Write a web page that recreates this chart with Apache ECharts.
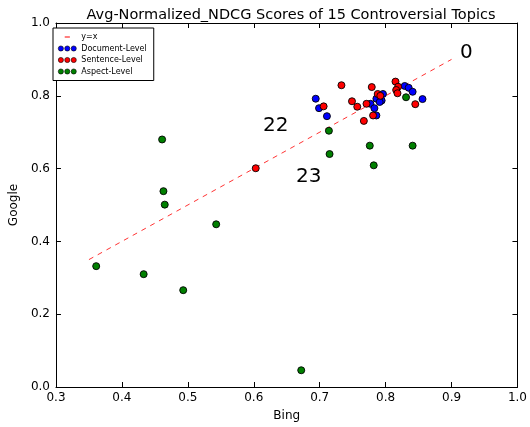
<!DOCTYPE html>
<html><head><meta charset="utf-8">
<script src="https://cdn.jsdelivr.net/npm/echarts@6/dist/echarts.min.js"></script>
<style>html,body{margin:0;padding:0;background:#fff}#c{width:530px;height:427px}</style>
</head><body><div id="c"></div>
<script>
const seriesNames = ['y=x', 'Document-Level', 'Sentence-Level', 'Aspect-Level'];
const xTicks = [0.3, 0.4, 0.5, 0.6, 0.7, 0.8, 0.9, 1.0];
const yTicks = [0.0, 0.2, 0.4, 0.6, 0.8, 1.0];
const refLine = [[0.35, 0.35], [0.9, 0.9]];
const documentLevel = [
  [0.694, 0.792], [0.699, 0.766], [0.711, 0.744], [0.777, 0.778], [0.783, 0.766],
  [0.786, 0.746], [0.786, 0.792], [0.796, 0.805], [0.794, 0.787], [0.791, 0.783],
  [0.829, 0.827], [0.835, 0.822], [0.841, 0.811], [0.856, 0.791]
];
const sentenceLevel = [
  [0.733, 0.829], [0.779, 0.824], [0.706, 0.771], [0.749, 0.785], [0.757, 0.770],
  [0.771, 0.778], [0.767, 0.731], [0.781, 0.746], [0.788, 0.805], [0.792, 0.800],
  [0.815, 0.839], [0.819, 0.825], [0.816, 0.816], [0.818, 0.807], [0.845, 0.777],
  [0.603, 0.601]
];
const aspectLevel = [
  [0.461, 0.680], [0.463, 0.538], [0.465, 0.501], [0.543, 0.447], [0.361, 0.332],
  [0.433, 0.310], [0.493, 0.266], [0.672, 0.046], [0.714, 0.704], [0.715, 0.640],
  [0.776, 0.663], [0.841, 0.663], [0.782, 0.609], [0.831, 0.796]
];
const annotations = [[0.913, 0.919, '0'], [0.614, 0.717, '22'], [0.664, 0.577, '23']];

const FONT = 'DejaVu Sans';
const chart = echarts.init(document.getElementById('c'), null, {renderer: 'canvas'});
const dots = 'path://M0,4a4,4 0 1,0 8,0a4,4 0 1,0 -8,0M10,4a4,4 0 1,0 8,0a4,4 0 1,0 -8,0M20,4a4,4 0 1,0 8,0a4,4 0 1,0 -8,0';
const dash = 'path://M0,0L0.01,0L0,0.01ZM10,3.4h8v1.2h-8ZM28,8L27.99,8L28,7.99Z';
const axisCommon = {
  axisLine: {show: true, onZero: false, lineStyle: {color: '#000', width: 1}},
  axisTick: {show: true, inside: true, length: 5, lineStyle: {color: '#000'}},
  splitLine: {show: false}
};
function fmt(v){ return v.toFixed(1); }
const mk = {borderColor: '#000', borderWidth: 0.9, opacity: 1};
chart.setOption({
  animation: false,
  backgroundColor: '#fff',
  title: {text: 'Avg-Normalized_NDCG Scores of 15 Controversial Topics', left: 286, top: 3, textAlign: 'center',
    textStyle: {fontFamily: FONT, fontSize: 14.5, fontWeight: 'normal', color: '#000'}},
  grid: {left: 52, right: 9, top: 23, bottom: 40},
  legend: {
    orient: 'vertical', left: 53, top: 28, padding: [5, 7, 5, 5], itemGap: 3.5,
    borderColor: '#000', borderWidth: 1, backgroundColor: '#fff',
    itemWidth: 18, itemHeight: 6,
    textStyle: {fontFamily: FONT, fontSize: 8, color: '#000'},
    data: [
      {name: seriesNames[0], icon: dash, itemStyle: {color: 'red'}},
      {name: seriesNames[1], icon: dots, itemStyle: {color: 'blue', borderColor: '#000', borderWidth: 0.6}},
      {name: seriesNames[2], icon: dots, itemStyle: {color: 'red', borderColor: '#000', borderWidth: 0.6}},
      {name: seriesNames[3], icon: dots, itemStyle: {color: 'green', borderColor: '#000', borderWidth: 0.6}}
    ]
  },
  xAxis: [
    Object.assign({type: 'value', min: 0.3, max: 1.0, interval: 0.1, name: 'Bing', nameLocation: 'middle', nameGap: 23,
      nameTextStyle: {fontFamily: FONT, fontSize: 12, color: '#000'},
      axisLabel: {fontFamily: FONT, fontSize: 12, color: '#000', margin: 5, formatter: fmt, showMaxLabel: true, showMinLabel: true}}, axisCommon),
    Object.assign({type: 'value', position: 'top', min: 0.3, max: 1.0, interval: 0.1, axisLabel: {show: false}}, axisCommon)
  ],
  yAxis: [
    Object.assign({type: 'value', min: 0, max: 1.0, interval: 0.2, name: 'Google', nameLocation: 'middle', nameGap: 31,
      nameTextStyle: {fontFamily: FONT, fontSize: 12, color: '#000'},
      axisLabel: {fontFamily: FONT, fontSize: 12, color: '#000', margin: 6, formatter: fmt}}, axisCommon),
    Object.assign({type: 'value', position: 'right', min: 0, max: 1.0, interval: 0.2, axisLabel: {show: false}}, axisCommon)
  ],
  series: [
    {name: seriesNames[0], type: 'line', data: refLine, symbol: 'none', z: 1,
      lineStyle: {color: 'red', width: 1, type: [5, 5], opacity: 0.8}, itemStyle: {color: 'red'}},
    {name: seriesNames[1], type: 'scatter', data: documentLevel, symbolSize: 7, z: 3,
      itemStyle: Object.assign({color: 'blue'}, mk)},
    {name: seriesNames[2], type: 'scatter', data: sentenceLevel, symbolSize: 7, z: 3,
      itemStyle: Object.assign({color: 'red'}, mk)},
    {name: seriesNames[3], type: 'scatter', data: aspectLevel, symbolSize: 7, z: 3,
      itemStyle: Object.assign({color: 'green'}, mk)},
    {type: 'scatter', data: annotations, symbolSize: 0, z: 5, silent: true,
      label: {show: true, position: 'right', distance: 0, fontFamily: FONT, fontSize: 20, color: '#000',
        textBorderWidth: 0, opacity: 1, formatter: p => p.data[2]}}
  ]
});
</script></body></html>
